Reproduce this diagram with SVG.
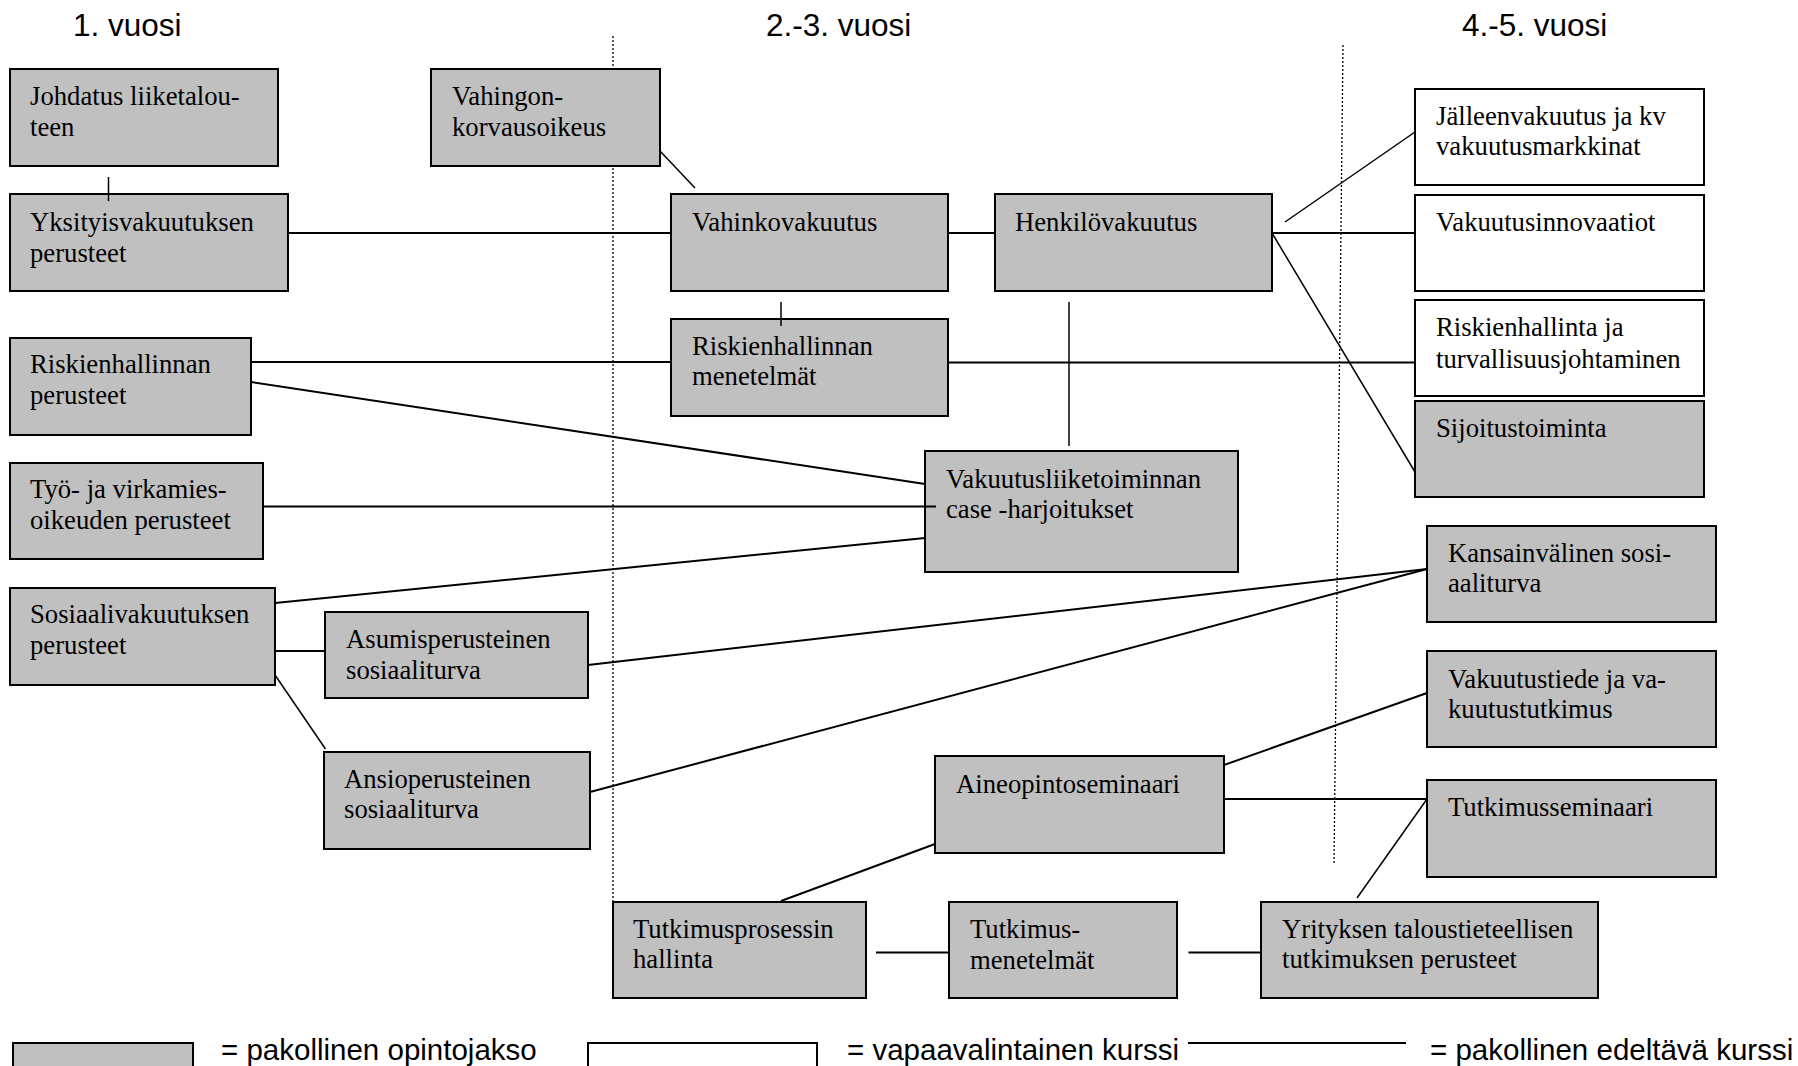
<svg xmlns="http://www.w3.org/2000/svg" width="1798" height="1066" viewBox="0 0 1798 1066">
<style>
.box{fill:#c0c0c0;stroke:#000;stroke-width:2}
.opt{fill:#fff;stroke:#000;stroke-width:2}
.t{font-family:"Liberation Serif","Times New Roman",serif;font-size:26.7px;fill:#000}
.h{font-family:"Liberation Sans",Arial,sans-serif;font-size:31.5px;fill:#000}
.lg{font-family:"Liberation Sans",Arial,sans-serif;font-size:29.5px;fill:#000}
.c{stroke:#000;stroke-width:2;fill:none}
.c1{stroke:#000;stroke-width:1.5;fill:none}
.dot{stroke:#000;stroke-width:1.3;stroke-dasharray:2 2;fill:none}
</style>
<rect width="1798" height="1066" fill="#fff"/>
<g id="headers">
<text class="h" x="73" y="36">1. vuosi</text>
<text class="h" x="766" y="36">2.-3. vuosi</text>
<text class="h" x="1462" y="36">4.-5. vuosi</text>
</g>
<g id="dividers">
<line class="dot" x1="613" y1="36" x2="613" y2="901"/>
<line class="dot" x1="1343" y1="45" x2="1334" y2="864"/>
</g>
<g id="n-johdatus"><rect class="box" x="10" y="69" width="268" height="97"/><text class="t" x="30" y="105">Johdatus liiketalou-</text><text class="t" x="30" y="136">teen</text></g>
<g id="n-yksityis"><rect class="box" x="10" y="194" width="278" height="97"/><text class="t" x="30" y="231">Yksityisvakuutuksen</text><text class="t" x="30" y="262">perusteet</text></g>
<g id="n-vahingon"><rect class="box" x="431" y="69" width="229" height="97"/><text class="t" x="452" y="105">Vahingon-</text><text class="t" x="452" y="136">korvausoikeus</text></g>
<g id="n-vahinko"><rect class="box" x="671" y="194" width="277" height="97"/><text class="t" x="692" y="231">Vahinkovakuutus</text></g>
<g id="n-henkilo"><rect class="box" x="995" y="194" width="277" height="97"/><text class="t" x="1015" y="231">Henkilövakuutus</text></g>
<g id="n-jalleen"><rect class="opt" x="1415" y="89" width="289" height="96"/><text class="t" x="1436" y="125">Jälleenvakuutus ja kv</text><text class="t" x="1436" y="155">vakuutusmarkkinat</text></g>
<g id="n-innovaatiot"><rect class="opt" x="1415" y="195" width="289" height="96"/><text class="t" x="1436" y="231">Vakuutusinnovaatiot</text></g>
<g id="n-riskijohtaminen"><rect class="opt" x="1415" y="300" width="289" height="96"/><text class="t" x="1436" y="336">Riskienhallinta ja</text><text class="t" x="1436" y="368">turvallisuusjohtaminen</text></g>
<g id="n-sijoitus"><rect class="box" x="1415" y="401" width="289" height="96"/><text class="t" x="1436" y="437">Sijoitustoiminta</text></g>
<g id="n-menetelmat"><rect class="box" x="671" y="319" width="277" height="97"/><text class="t" x="692" y="355">Riskienhallinnan</text><text class="t" x="692" y="385">menetelmät</text></g>
<g id="n-riskiperusteet"><rect class="box" x="10" y="338" width="241" height="97"/><text class="t" x="30" y="373">Riskienhallinnan</text><text class="t" x="30" y="404">perusteet</text></g>
<g id="n-tyo"><rect class="box" x="10" y="463" width="253" height="96"/><text class="t" x="30" y="498">Työ- ja virkamies-</text><text class="t" x="30" y="529">oikeuden perusteet</text></g>
<g id="n-case"><rect class="box" x="925" y="451" width="313" height="121"/><text class="t" x="946" y="488">Vakuutusliiketoiminnan</text><text class="t" x="946" y="518">case -harjoitukset</text></g>
<g id="n-sosiaali"><rect class="box" x="10" y="588" width="265" height="97"/><text class="t" x="30" y="623">Sosiaalivakuutuksen</text><text class="t" x="30" y="654">perusteet</text></g>
<g id="n-asumis"><rect class="box" x="325" y="612" width="263" height="86"/><text class="t" x="346" y="648">Asumisperusteinen</text><text class="t" x="346" y="679">sosiaaliturva</text></g>
<g id="n-ansio"><rect class="box" x="324" y="752" width="266" height="97"/><text class="t" x="344" y="788">Ansioperusteinen</text><text class="t" x="344" y="818">sosiaaliturva</text></g>
<g id="n-kansainvalinen"><rect class="box" x="1427" y="526" width="289" height="96"/><text class="t" x="1448" y="562">Kansainvälinen sosi-</text><text class="t" x="1448" y="592">aaliturva</text></g>
<g id="n-vakuutustiede"><rect class="box" x="1427" y="651" width="289" height="96"/><text class="t" x="1448" y="688">Vakuutustiede ja va-</text><text class="t" x="1448" y="718">kuutustutkimus</text></g>
<g id="n-aineopinto"><rect class="box" x="935" y="756" width="289" height="97"/><text class="t" x="956" y="793">Aineopintoseminaari</text></g>
<g id="n-tutkimusseminaari"><rect class="box" x="1427" y="780" width="289" height="97"/><text class="t" x="1448" y="816">Tutkimusseminaari</text></g>
<g id="n-tutkimusprosessi"><rect class="box" x="613" y="902" width="253" height="96"/><text class="t" x="633" y="938">Tutkimusprosessin</text><text class="t" x="633" y="968">hallinta</text></g>
<g id="n-tutkimusmenetelmat"><rect class="box" x="949" y="902" width="228" height="96"/><text class="t" x="970" y="938">Tutkimus-</text><text class="t" x="970" y="969">menetelmät</text></g>
<g id="n-yrityksen"><rect class="box" x="1261" y="902" width="337" height="96"/><text class="t" x="1282" y="938">Yrityksen taloustieteellisen</text><text class="t" x="1282" y="968">tutkimuksen perusteet</text></g>
<g id="connectors">
<line class="c1" x1="108.5" y1="177" x2="108.5" y2="201"/>
<line class="c" x1="288" y1="233" x2="671" y2="233"/>
<line class="c1" x1="660" y1="151" x2="695" y2="188"/>
<line class="c" x1="948" y1="233" x2="995" y2="233"/>
<line class="c1" x1="1285" y1="222" x2="1415" y2="132"/>
<line class="c" x1="1272" y1="233" x2="1415" y2="233"/>
<line class="c1" x1="1272" y1="233" x2="1415" y2="472"/>
<line class="c1" x1="781" y1="302" x2="781" y2="326"/>
<line class="c1" x1="1069" y1="302" x2="1069" y2="446"/>
<line class="c" x1="251" y1="362" x2="671" y2="362"/>
<line class="c" x1="948" y1="362.5" x2="1415" y2="362.5"/>
<line class="c" x1="251" y1="382" x2="925" y2="484"/>
<line class="c" x1="263" y1="506.5" x2="936" y2="506.5"/>
<line class="c" x1="275" y1="603" x2="925" y2="538"/>
<line class="c" x1="275" y1="651" x2="325" y2="651"/>
<line class="c1" x1="275" y1="675" x2="325.5" y2="749"/>
<line class="c" x1="588" y1="665" x2="1427" y2="569"/>
<line class="c" x1="590" y1="792" x2="1427" y2="569"/>
<line class="c" x1="1224" y1="765" x2="1427" y2="693"/>
<line class="c" x1="1224" y1="799" x2="1427" y2="799"/>
<line class="c1" x1="1427" y1="799" x2="1357" y2="898"/>
<line class="c" x1="935" y1="844" x2="781" y2="901"/>
<line class="c" x1="876" y1="952.5" x2="949" y2="952.5"/>
<line class="c" x1="1188.5" y1="952.5" x2="1261" y2="952.5"/>
</g>
<g id="legend">
<rect class="box" x="13" y="1043" width="180" height="40"/>
<text class="lg" x="221" y="1060">= pakollinen opintojakso</text>
<rect class="opt" x="588" y="1043" width="229" height="40"/>
<text class="lg" x="847" y="1060">= vapaavalintainen kurssi</text>
<line class="c" x1="1188" y1="1043" x2="1406" y2="1043"/>
<text class="lg" x="1430" y="1060">= pakollinen edeltävä kurssi</text>
</g>
</svg>
